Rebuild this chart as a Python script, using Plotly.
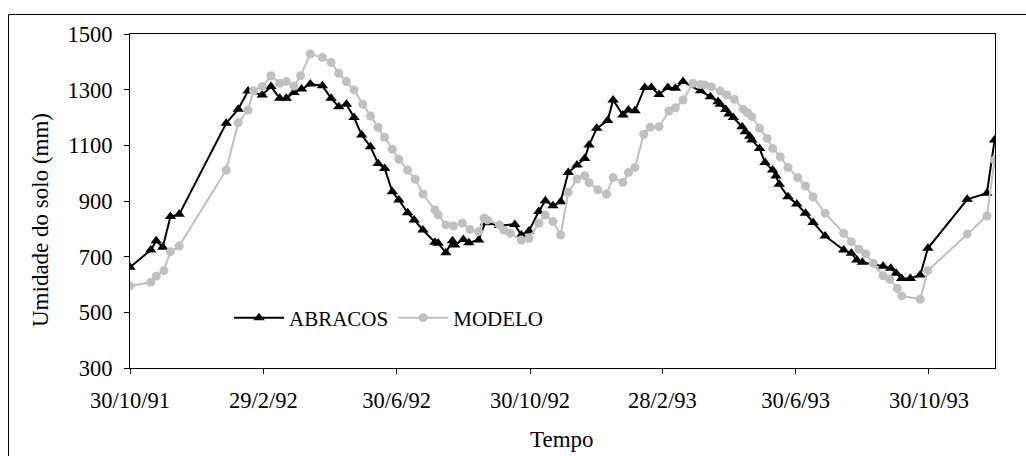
import pandas as pd
import plotly.graph_objects as go

# ---- data ----
data_inicio = "1991-10-30"

dias_abracos = [0, 19, 24, 30, 37, 45, 88, 99, 108, 121, 129, 137, 143, 150, 157, 165,
                176, 184, 191, 198, 205, 212, 220, 227, 233, 240, 246, 254, 260, 268,
                279, 282, 289, 295, 297, 305, 310, 319, 325, 338, 352, 358, 365, 374,
                380, 387, 394, 401, 409, 416, 420, 427, 437, 442, 451, 456, 462, 471,
                477, 484, 492, 499, 506, 522, 531, 538, 540, 545, 548, 552, 560, 563,
                567, 569, 576, 581, 588, 591, 594, 602, 610, 618, 625, 636, 653, 660,
                665, 670, 689, 696, 701, 706, 714, 723, 730, 766, 784, 791]
abracos = [662, 724, 757, 734, 844, 852, 1179, 1230, 1295, 1281, 1311, 1269, 1269, 1290,
           1302, 1320, 1314, 1269, 1239, 1248, 1200, 1137, 1095, 1035, 1017, 933, 904,
           858, 832, 796, 752, 748, 714, 757, 742, 762, 750, 760, 822, 812, 816, 778,
           792, 862, 901, 883, 897, 1002, 1029, 1053, 1101, 1161, 1189, 1263, 1209,
           1227, 1224, 1308, 1308, 1283, 1308, 1305, 1329, 1296, 1275, 1257, 1248,
           1229, 1213, 1200, 1167, 1149, 1133, 1119, 1089, 1038, 1011, 990, 960, 915,
           889, 856, 823, 774, 724, 712, 688, 680, 666, 658, 640, 622, 622, 634, 730,
           906, 928, 1119]

dias_modelo = [0, 19, 24, 31, 37, 45, 88, 99, 108, 113, 121, 129, 137, 143, 150, 156,
               165, 176, 184, 191, 198, 205, 213, 220, 227, 233, 240, 246, 254, 261,
               268, 279, 282, 289, 296, 304, 311, 319, 324, 327, 338, 342, 348, 358,
               365, 374, 380, 387, 394, 401, 409, 416, 420, 428, 436, 442, 451, 456,
               462, 470, 476, 484, 493, 499, 506, 515, 522, 526, 532, 540, 546, 553,
               561, 565, 569, 576, 583, 588, 595, 602, 611, 618, 625, 636, 653, 660,
               667, 673, 680, 689, 695, 702, 706, 723, 730, 766, 784, 791]
modelo = [595, 608, 630, 650, 718, 738, 1011, 1181, 1227, 1296, 1311, 1350, 1323, 1329,
          1313, 1350, 1428, 1416, 1398, 1359, 1329, 1299, 1248, 1205, 1165, 1129, 1086,
          1050, 1011, 978, 925, 868, 850, 814, 810, 820, 798, 790, 838, 832, 814, 796,
          784, 760, 766, 820, 850, 826, 778, 931, 979, 991, 966, 940, 925, 984, 967,
          1002, 1020, 1140, 1165, 1167, 1223, 1235, 1263, 1323, 1319, 1317, 1310, 1295,
          1281, 1265, 1230, 1217, 1203, 1161, 1125, 1089, 1059, 1020, 984, 954, 915,
          856, 784, 754, 727, 710, 676, 631, 619, 586, 559, 547, 650, 781, 846, 1047]

tick_datas = ["1991-10-30", "1992-02-29", "1992-06-30", "1992-10-30",
              "1993-02-28", "1993-06-30", "1993-10-30"]
tick_textos = ["30/10/91", "29/2/92", "30/6/92", "30/10/92", "28/2/93", "30/6/93", "30/10/93"]

inicio = pd.Timestamp(data_inicio)
x_abracos = inicio + pd.to_timedelta(dias_abracos, unit="D")
x_modelo = inicio + pd.to_timedelta(dias_modelo, unit="D")

FONT = "Liberation Serif, Times New Roman, serif"
W, H = 1026, 456
ML, MR, MT, MB = 130, 31, 34, 88
PW, PH = W - ML - MR, H - MT - MB


def px_x(p):
    return (p - ML) / PW


def px_y(p):
    return (H - MB - p) / PH


fig = go.Figure()
fig.add_trace(go.Scatter(
    x=x_abracos, y=abracos, name="ABRACOS", mode="lines+markers",
    line=dict(color="black", width=2),
    marker=dict(symbol="triangle-up", size=10, color="black"),
))
fig.add_trace(go.Scatter(
    x=x_modelo, y=modelo, name="MODELO", mode="lines+markers",
    line=dict(color="#c0c0c0", width=2),
    marker=dict(symbol="circle", size=9, color="#c0c0c0"),
))

fig.update_layout(
    width=W, height=H,
    margin=dict(l=ML, r=MR, t=MT, b=MB),
    paper_bgcolor="white", plot_bgcolor="white",
    font=dict(family=FONT, color="black", size=22),
    showlegend=True,
    legend=dict(orientation="h", x=px_x(229), y=px_y(318), xanchor="left", yanchor="middle",
                bgcolor="rgba(0,0,0,0)", font=dict(size=21, family=FONT), itemwidth=50,
                tracegroupgap=0),
    xaxis=dict(
        type="date",
        range=[inicio, inicio + pd.Timedelta(days=791.4)],
        tickmode="array", tickvals=tick_datas, ticktext=tick_textos,
        showgrid=False, zeroline=False,
        showline=True, linecolor="black", linewidth=1, mirror=True,
        ticks="outside", ticklen=5, tickcolor="black",
        tickfont=dict(size=22.5, family=FONT), ticklabelstandoff=7,
    ),
    yaxis=dict(
        range=[300, 1500], tickvals=[300, 500, 700, 900, 1100, 1300, 1500],
        showgrid=False, zeroline=False,
        showline=True, linecolor="black", linewidth=1, mirror=True,
        ticks="outside", ticklen=5, tickcolor="black",
        tickfont=dict(size=22.5, family=FONT), ticklabelstandoff=7,
    ),
    annotations=[
        dict(text="Umidade do solo (mm)", xref="paper", yref="paper",
             x=px_x(40), y=px_y(220), textangle=-90, showarrow=False,
             xanchor="center", yanchor="middle", font=dict(size=23, family=FONT)),
        dict(text="Tempo", xref="paper", yref="paper",
             x=px_x(562), y=px_y(439), showarrow=False,
             xanchor="center", yanchor="middle", font=dict(size=23, family=FONT)),
    ],
    shapes=[
        dict(type="line", xref="paper", yref="paper",
             x0=px_x(8.5), x1=px_x(1040), y0=px_y(14.5), y1=px_y(14.5),
             line=dict(color="black", width=1)),
        dict(type="line", xref="paper", yref="paper",
             x0=px_x(8.5), x1=px_x(8.5), y0=px_y(14.5), y1=px_y(470),
             line=dict(color="black", width=1)),
    ],
)

fig.write_html("out.html")
